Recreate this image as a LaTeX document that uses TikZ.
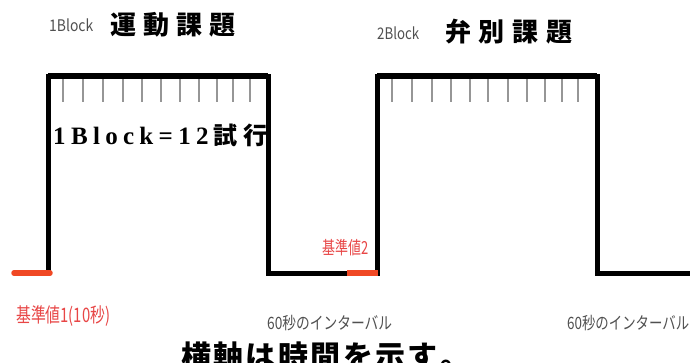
\documentclass[tikz,border=0pt]{standalone}
\usepackage{fontspec}
\usepackage{graphicx}
\newfontfamily\cjk{Noto Sans CJK JP}
\newfontfamily\serifb{Liberation Serif}
\definecolor{redline}{RGB}{240,72,36}
\definecolor{redtext}{RGB}{232,70,70}
\definecolor{graytext}{RGB}{80,80,80}
\definecolor{tickgray}{RGB}{150,150,150}
\tikzset{
  wave/.style={line width=5pt, line join=miter, black},
  topline/.style={line width=6.5pt, black},
  base/.style={line width=5.5pt, redline, line cap=round},
  tick/.style={line width=1.1pt, tickgray},
  lbl/.style={inner sep=0pt, anchor=west},
}
\begin{document}
\begin{tikzpicture}[x=1pt,y=-1pt]
\clip (0,0) rectangle (690,362);
\fill[white] (0,0) rectangle (690,362);
% coordinates of the wave
\coordinate (a0) at (48,273);
\coordinate (a1) at (48,76);
\coordinate (a2) at (268,76);
\coordinate (a3) at (268,273);
\coordinate (b0) at (377,273);
\coordinate (b1) at (377,76);
\coordinate (b2) at (597,76);
\coordinate (b3) at (597,273);
\coordinate (e) at (700,273);
\coordinate (r1a) at (14,273);
\coordinate (r1b) at (50,273);
\coordinate (r2a) at (347,273);
\coordinate (r2b) at (377,273);
% ticks
\foreach \x in {63,83,103,123,142,161,180,199,217,233,250}
  \draw[tick] (\x,79) -- (\x,102);
\foreach \x in {392,412,432,451,470,488,508,527,545,562,578}
  \draw[tick] (\x,79) -- (\x,102);
% wave
\draw[wave] (a0) -- (a1) -- (a2) -- (a3) -- (b0) -- (b1) -- (b2) -- (b3) -- (e);
\draw[topline] (a1) -- (a2);
\draw[topline] (b1) -- (b2);
% baselines
\draw[base] (r1a) -- (r1b);
\draw[base, line cap=butt] (r2a) -- ([xshift=1pt]r2b);
% labels
\node[lbl, text=graytext] (l1) at (49,25) {\resizebox{44pt}{\height}{\cjk\fontsize{16}{16}\selectfont 1Block}};
\node[lbl] (t1) at (110,25) {\cjk\bfseries\fontsize{26}{26}\selectfont\hbox to 125pt{運\hfill 動\hfill 課\hfill 題}};
\node[lbl, text=graytext] (l2) at (377,33) {\resizebox{42pt}{\height}{\cjk\fontsize{16}{16}\selectfont 2Block}};
\node[lbl] (t2) at (445,32) {\cjk\bfseries\fontsize{26}{26}\selectfont\hbox to 127pt{弁\hfill 別\hfill 課\hfill 題}};
\node[lbl] (blk) at (53,135) {\hbox to 214pt{\serifb\bfseries\fontsize{25}{25}\selectfont 1\hfill B\hfill l\hfill o\hfill c\hfill k\hfill =\hfill 1\hfill 2\hfill{\cjk\fontsize{24}{24}\selectfont 試\hfill 行}}};
\node[lbl, text=redtext] (k1) at (16,316) {\resizebox{94pt}{\height}{\cjk\fontsize{20}{20}\selectfont 基準値1(10秒)}};
\node[lbl, text=redtext] (k2) at (322,248) {\resizebox{46pt}{\height}{\cjk\fontsize{18}{18}\selectfont 基準値2}};
\node[lbl, text=graytext] (i1) at (267,323) {\resizebox{125pt}{\height}{\cjk\fontsize{17}{17}\selectfont 60秒のインターバル}};
\node[lbl, text=graytext] (i2) at (567,323) {\resizebox{122pt}{\height}{\cjk\fontsize{17}{17}\selectfont 60秒のインターバル}};
\node[lbl] (ax) at (181,356) {\cjk\bfseries\fontsize{30}{30}\selectfont\hbox to 289pt{横\hfill 軸\hfill は\hfill 時\hfill 間\hfill を\hfill 示\hfill す\hfill 。}};
\end{tikzpicture}
\end{document}
